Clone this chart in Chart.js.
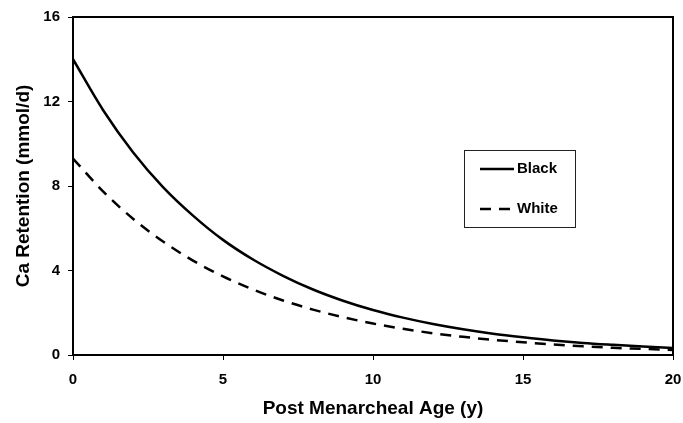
<!DOCTYPE html>
<html>
<head>
<meta charset="utf-8">
<script src="https://cdn.jsdelivr.net/npm/chart.js@4"></script>
<style>
  body { margin: 0; background: #fff; }
  #wrap { width: 683px; height: 423px; }
</style>
</head>
<body>
<div id="wrap"><canvas id="caChart" width="683" height="423"></canvas></div>
<script>
const years = [0, 1, 2, 3, 4, 5, 6, 7, 8, 9, 10, 11, 12, 13, 14, 15, 16, 17, 18, 19, 20];
const blackRetention = [14.0, 11.6, 9.6, 7.95, 6.6, 5.45, 4.52, 3.75, 3.1, 2.57, 2.13, 1.77, 1.47, 1.22, 1.01, 0.84, 0.69, 0.57, 0.48, 0.4, 0.33];
const whiteRetention = [9.3, 7.75, 6.45, 5.37, 4.47, 3.72, 3.1, 2.58, 2.15, 1.79, 1.49, 1.24, 1.03, 0.86, 0.72, 0.6, 0.5, 0.41, 0.34, 0.29, 0.24];
const seriesNames = ['Black', 'White'];
const xTicks = [0, 5, 10, 15, 20];
const yTicks = [0, 4, 8, 12, 16];

const boldFont = size => ({family: 'Arial, "Liberation Sans", sans-serif', size: size, weight: 'bold'});

// frame round the plot plus the boxed legend inside it
const framePlugin = {
    id: 'frame',
    afterDatasetsDraw(chart) {
        const {ctx, chartArea: a} = chart;
        ctx.save();
        ctx.strokeStyle = '#000';
        ctx.lineWidth = 2;
        ctx.strokeRect(a.left, a.top, a.right - a.left, a.bottom - a.top);

        const bx = a.left + 391, by = a.top + 133, bw = 111, bh = 77;
        ctx.lineWidth = 1;
        ctx.strokeStyle = '#222';
        ctx.fillStyle = '#fff';
        ctx.fillRect(bx, by, bw, bh);
        ctx.strokeRect(bx + 0.5, by + 0.5, bw, bh);

        ctx.font = 'bold 15px Arial, "Liberation Sans", sans-serif';
        ctx.textBaseline = 'middle';
        ctx.fillStyle = '#000';
        chart.data.datasets.forEach((ds, i) => {
            const y = by + 19 + i * 40;
            ctx.beginPath();
            ctx.lineWidth = 2.5;
            ctx.strokeStyle = '#000';
            ctx.setLineDash(ds.borderDash || []);
            ctx.moveTo(bx + 16, y);
            ctx.lineTo(bx + 50, y);
            ctx.stroke();
            ctx.setLineDash([]);
            ctx.fillText(ds.label, bx + 53, y);
        });
        ctx.restore();
    }
};

new Chart('caChart', {
    type: 'line',
    data: {
        datasets: [
            {
                label: seriesNames[0],
                data: years.map((x, i) => ({x: x, y: blackRetention[i]})),
                borderColor: '#000',
                borderWidth: 2.5,
                pointRadius: 0,
                cubicInterpolationMode: 'monotone'
            },
            {
                label: seriesNames[1],
                data: years.map((x, i) => ({x: x, y: whiteRetention[i]})),
                borderColor: '#000',
                borderWidth: 2.5,
                borderDash: [11, 8],
                pointRadius: 0,
                cubicInterpolationMode: 'monotone'
            }
        ]
    },
    options: {
        responsive: false,
        animation: false,
        layout: {padding: {top: 17, right: 10, left: 0, bottom: 0}},
        plugins: {legend: {display: false}, tooltip: {enabled: false}},
        scales: {
            x: {
                type: 'linear',
                min: 0, max: 20,
                afterBuildTicks: s => { s.ticks = xTicks.map(v => ({value: v})); },
                afterFit: s => { s.height = 68; s.paddingLeft = 0; s.paddingRight = 0; },
                border: {color: '#000', width: 2},
                grid: {drawOnChartArea: false, color: '#000', tickLength: 5, lineWidth: 1},
                ticks: {color: '#000', font: boldFont(15), padding: 11, maxRotation: 0},
                title: {display: true, text: 'Post Menarcheal Age (y)', color: '#000', font: boldFont(19), padding: {top: 0, bottom: 3}}
            },
            y: {
                min: 0, max: 16,
                afterBuildTicks: s => { s.ticks = yTicks.map(v => ({value: v})); },
                afterFit: s => { s.width = 73; s.paddingTop = 0; s.paddingBottom = 0; },
                border: {color: '#000', width: 2},
                grid: {drawOnChartArea: false, color: '#000', tickLength: 5, lineWidth: 1},
                ticks: {color: '#000', font: boldFont(15), padding: 8},
                title: {display: true, text: 'Ca Retention (mmol/d)', color: '#000', font: boldFont(19), padding: {top: 12, bottom: 0}}
            }
        }
    },
    plugins: [framePlugin]
});
</script>
</body>
</html>
